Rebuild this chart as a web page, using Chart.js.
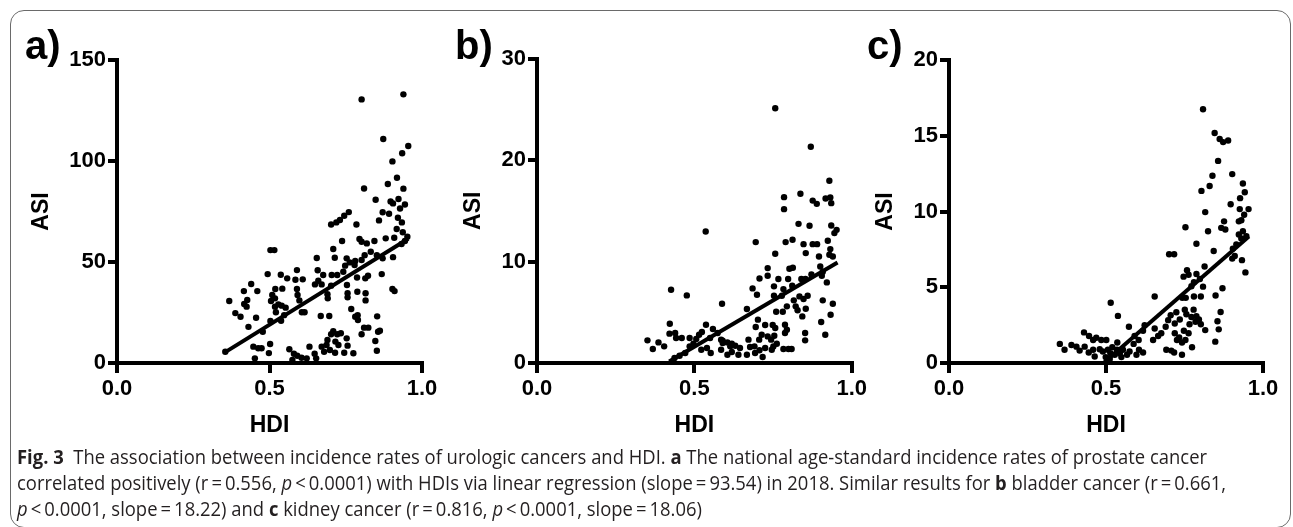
<!DOCTYPE html>
<html>
<head>
<meta charset="utf-8">
<script src="https://cdn.jsdelivr.net/npm/chart.js@4.4.0/dist/chart.umd.min.js"></script>
<style>
  html, body { margin: 0; padding: 0; background: #fff; }
  body { width: 1293px; height: 527px; position: relative; overflow: hidden; font-family: "Liberation Sans", Arial, sans-serif; }
  #frame { position: absolute; left: 10px; top: 10px; width: 1281px; height: 518px; border: 1.5px solid #6a6a6a; border-radius: 14px; box-sizing: border-box; }
  canvas.panel { position: absolute; top: 0; }
  .letter { position: absolute; top: 25px; font-weight: bold; font-size: 40px; line-height: 40px; color: #000; }
  .caption { position: absolute; left: 17px; font-family: "Open Sans", "Noto Sans", sans-serif; font-size: 20px; line-height: 26px; white-space: nowrap; transform-origin: 0 0; color: #231f20; }
</style>
</head>
<body>
<div id="frame"></div>

<canvas class="panel" id="chartA" width="430" height="450" style="left:12px"></canvas>
<canvas class="panel" id="chartB" width="440" height="450" style="left:430px"></canvas>
<canvas class="panel" id="chartC" width="435" height="450" style="left:850px"></canvas>

<div class="letter" style="left:25px">a)</div>
<div class="letter" style="left:455px">b)</div>
<div class="letter" style="left:867px">c)</div>

<div class="caption" style="top:444px"><b>Fig. 3</b>&nbsp; The association between incidence rates of urologic cancers and HDI. <b>a</b> The national age-standard incidence rates of prostate cancer</div>
<div class="caption" style="top:470px">correlated positively (r&thinsp;=&thinsp;0.556, <i>p</i>&thinsp;&lt;&thinsp;0.0001) with HDIs via linear regression (slope&thinsp;=&thinsp;93.54) in 2018. Similar results for <b>b</b> bladder cancer (r&thinsp;=&thinsp;0.661,</div>
<div class="caption" style="top:496px"><i>p</i>&thinsp;&lt;&thinsp;0.0001, slope&thinsp;=&thinsp;18.22) and <b>c</b> kidney cancer (r&thinsp;=&thinsp;0.816, <i>p</i>&thinsp;&lt;&thinsp;0.0001, slope&thinsp;=&thinsp;18.06)</div>

<script>
// a) prostate cancer
const hdiA = [0.802,0.939,0.873,0.955,0.935,0.903,0.918,0.888,0.939,0.810,0.848,0.897,0.905,0.923,0.944,0.928,0.871,0.892,0.921,0.760,
  0.745,0.731,0.719,0.702,0.785,0.859,0.934,0.917,0.937,0.952,0.944,0.933,0.909,0.881,0.844,0.819,0.795,0.802,0.738,0.709,
  0.655,0.714,0.753,0.763,0.781,0.812,0.832,0.852,0.871,0.905,0.802,0.779,0.748,0.742,0.722,0.704,0.676,0.658,0.660,0.649,
  0.671,0.585,0.609,0.590,0.558,0.537,0.494,0.503,0.516,0.542,0.519,0.509,0.518,0.505,0.529,0.518,0.540,0.553,0.590,0.592,
  0.598,0.615,0.606,0.668,0.696,0.691,0.690,0.702,0.754,0.787,0.814,0.823,0.756,0.756,0.788,0.815,0.815,0.868,0.903,0.910,
  0.768,0.781,0.790,0.789,0.853,0.810,0.824,0.856,0.862,0.847,0.852,0.802,0.427,0.440,0.416,0.460,0.368,0.417,0.425,0.388,
  0.405,0.456,0.431,0.478,0.521,0.538,0.503,0.548,0.447,0.463,0.474,0.502,0.498,0.452,0.355,0.565,0.580,0.591,0.605,0.631,
  0.648,0.653,0.622,0.575,0.671,0.687,0.690,0.702,0.709,0.722,0.734,0.716,0.753,0.726,0.756,0.698,0.715,0.745,0.775,0.679];
const asiA = [130.5,133,110.9,107.4,103.8,99.8,91.7,88.6,86.3,86.4,80.8,80,79,81.2,78.5,76.5,74.6,73.9,71.9,74.7,
  72.9,70.8,69.6,68.6,68.6,70.6,69.6,66.3,64.7,62.5,60.4,58.9,62,61.7,60.4,59.2,61.4,60,60.4,56.4,
  52,52.1,51.8,49.8,50.5,53.4,55.1,53.4,51.8,52.4,51,48.5,48.2,45.2,43.6,43.6,43.6,45.9,40.7,38.9,
  38.9,41.2,41.4,46,41.9,43.7,44,55.9,55.9,36.8,36.6,33.7,32,30.7,29,27.9,28.4,27.4,36.6,33.7,
  31,25.1,25.1,23.3,23.3,32,34,38.3,38.6,42.3,41.9,43.2,34.5,32.5,35.3,34.5,31,44,36.6,35.6,
  26.7,22.9,21.3,23.7,23.1,17.5,17.5,15.5,16,10.9,6.1,14.2,31.2,39.1,35.6,35.6,30.7,29.2,27.9,24.7,
  22.9,22.4,17.9,15.5,25.1,20.9,20.8,23.7,8.1,7.3,7.3,9.4,4.9,2.3,5.6,6.8,4.6,3.6,2.6,8.1,
  4.6,2.3,2.3,1.5,8.1,8.9,11.4,14.2,15.8,14.2,14.7,10.6,12.2,8.9,8.6,6.4,5.1,5.1,4.8,5.6];
const fitHdiA = [0.355, 0.955];
const fitAsiA = [5.4, 61.5];

// b) bladder cancer
const hdiB = [0.757,0.870,0.929,0.785,0.837,0.876,0.889,0.917,0.932,0.935,0.785,0.536,0.831,0.866,0.935,0.952,0.945,0.790,0.812,0.695,
  0.847,0.876,0.890,0.924,0.932,0.854,0.896,0.929,0.940,0.757,0.733,0.802,0.813,0.900,0.908,0.707,0.733,0.767,0.798,0.753,
  0.685,0.699,0.840,0.853,0.872,0.905,0.921,0.811,0.783,0.778,0.753,0.834,0.860,0.816,0.847,0.908,0.940,0.794,0.822,0.828,
  0.760,0.781,0.667,0.854,0.843,0.933,0.903,0.916,0.426,0.476,0.588,0.702,0.422,0.537,0.559,0.524,0.515,0.695,0.725,0.749,
  0.757,0.788,0.794,0.852,0.852,0.421,0.442,0.460,0.485,0.506,0.574,0.585,0.590,0.605,0.614,0.630,0.645,0.672,0.691,0.706,
  0.714,0.733,0.744,0.754,0.788,0.783,0.799,0.809,0.762,0.746,0.725,0.707,0.717,0.693,0.667,0.640,0.619,0.605,0.585,0.552,
  0.540,0.522,0.497,0.485,0.471,0.453,0.437,0.351,0.368,0.386,0.404,0.439,0.550,0.590,0.619,0.677,0.751];
const asiB = [25.1,21.3,17.95,16.34,16.67,16.0,15.68,16.2,16.3,15.75,15.16,12.96,13.71,13.52,13.55,13.12,12.8,11.91,12.14,11.91,
  11.71,11.71,11.71,12.04,11.22,10.83,10.5,10.66,10.5,10.76,9.35,9.28,9.38,9.51,8.99,8.33,8.6,8.27,8.27,7.55,
  7.35,6.73,8.27,8.27,8.73,8.6,7.94,7.61,7.28,6.63,6.63,6.56,6.63,6.17,6.3,6.17,5.84,5.58,5.58,5.19,
  5.05,5.05,5.32,5.35,4.59,4.76,4.04,2.79,7.22,6.66,5.84,4.27,3.87,3.77,3.35,3.05,2.79,3.54,3.74,3.74,
  3.45,3.77,3.28,2.95,2.23,2.89,2.46,2.46,2.46,2.36,2.95,2.3,1.97,2.03,1.64,1.7,1.48,2.3,1.64,2.3,
  2.79,2.62,2.3,2.69,2.95,1.38,1.38,1.38,1.9,1.31,1.48,1.25,0.59,0.98,0.82,0.82,1.08,0.82,1.31,0.98,
  1.48,1.31,1.9,1.64,0.98,0.72,0.49,2.23,1.38,2.03,1.64,2.95,2.46,2.2,1.9,1.57,1.63];
const fitHdiB = [0.42, 0.955];
const fitAsiB = [0.15, 9.9];

// c) kidney cancer
const hdiC = [0.809,0.846,0.862,0.873,0.889,0.857,0.839,0.902,0.936,0.830,0.804,0.942,0.816,0.927,0.897,0.926,0.954,0.940,0.931,0.923,
  0.876,0.753,0.825,0.867,0.880,0.936,0.923,0.931,0.947,0.788,0.915,0.904,0.843,0.701,0.717,0.910,0.902,0.933,0.944,0.814,
  0.758,0.747,0.763,0.788,0.799,0.780,0.772,0.809,0.871,0.849,0.802,0.780,0.754,0.743,0.655,0.515,0.538,0.573,0.865,0.855,
  0.859,0.848,0.779,0.788,0.751,0.756,0.772,0.724,0.706,0.698,0.796,0.802,0.816,0.785,0.766,0.735,0.719,0.748,0.763,0.733,
  0.719,0.690,0.676,0.666,0.650,0.742,0.726,0.753,0.774,0.692,0.708,0.717,0.742,0.618,0.604,0.591,0.588,0.605,0.618,0.597,
  0.575,0.567,0.655,0.623,0.430,0.446,0.459,0.469,0.485,0.501,0.536,0.353,0.368,0.390,0.406,0.416,0.432,0.445,0.459,0.464,
  0.480,0.490,0.506,0.514,0.520,0.528,0.544,0.549,0.499,0.512,0.535,0.554];
const asiC = [16.75,15.18,14.79,14.58,14.69,13.34,12.36,12.47,11.85,11.68,11.36,11.27,9.96,10.88,10.48,10.16,10.16,9.79,9.42,9.35,
  9.35,8.96,8.7,8.92,8.81,8.7,8.48,8.22,8.37,7.87,7.83,7.55,7.39,7.18,7.18,7.07,6.89,6.79,5.98,6.37,
  6.13,5.7,5.83,5.87,5.54,5.33,5.07,5.04,4.93,4.46,4.39,4.39,4.3,4.3,4.39,3.98,3.11,2.39,3.37,2.76,
  2.22,1.41,3.52,3.09,3.52,3.22,3.04,3.35,3.15,2.83,2.87,2.56,2.17,2.72,2.56,2.87,2.61,2.13,1.96,1.69,
  1.96,2.39,1.96,1.78,1.52,1.35,1.52,1.52,1.04,0.87,0.82,0.69,0.54,2.13,1.52,1.78,1.26,0.87,0.69,0.54,
  0.76,0.54,2.28,2.5,2.02,1.78,1.52,1.67,1.52,1.52,1.35,1.26,0.87,1.19,1.08,0.82,1.08,0.69,0.87,0.43,
  0.91,0.76,0.87,0.65,1.04,0.54,0.65,0.39,0.39,0.26,0.87,0.87];
const fitHdiC = [0.495, 0.955];
const fitAsiC = [0.05, 8.35];

const xTicks = [0, 0.5, 1];

const tickFont = { family: '"Liberation Sans", Arial, sans-serif', size: 22, weight: 'bold' };
const titleFont = { family: '"Liberation Sans", Arial, sans-serif', size: 23, weight: 'bold' };

function build_chart(id, hdi, asi, fitX, fitY, yMax, yStep, top, yWidth, padRight, asiPad) {
  const points = hdi.map((v, i) => ({ x: v, y: asi[i] }));
  const fit = fitX.map((v, i) => ({ x: v, y: fitY[i] }));
  return new Chart(document.getElementById(id), {
    type: 'scatter',
    data: {
      datasets: [
        { data: points, backgroundColor: '#000', borderColor: '#000', borderWidth: 0, pointRadius: 3.2, clip: false },
        { data: fit, showLine: true, borderColor: '#000', borderWidth: 4, pointRadius: 0, clip: false }
      ]
    },
    options: {
      responsive: false,
      animation: false,
      layout: { padding: { top: top, right: padRight, left: 0, bottom: 0 } },
      plugins: { legend: { display: false }, tooltip: { enabled: false } },
      scales: {
        x: {
          type: 'linear', min: 0, max: 1,
          afterBuildTicks: s => { s.ticks = xTicks.map(v => ({ value: v })); },
          ticks: { callback: v => v.toFixed(1), font: tickFont, color: '#000', padding: 3, maxRotation: 0 },
          grid: { drawOnChartArea: false, tickLength: 10, lineWidth: 4, color: '#000' },
          border: { width: 4, color: '#000' },
          title: { display: true, text: 'HDI', font: titleFont, color: '#000', padding: { top: 0, bottom: 11 } },
          afterFit: s => { s.height = 87; }
        },
        y: {
          type: 'linear', min: 0, max: yMax,
          ticks: { stepSize: yStep, font: tickFont, color: '#000', padding: 2 },
          grid: { drawOnChartArea: false, tickLength: 9, lineWidth: 4, color: '#000' },
          border: { width: 4, color: '#000' },
          title: { display: true, text: 'ASI', font: titleFont, color: '#000', padding: { top: asiPad, bottom: 0 } },
          afterFit: s => { s.width = yWidth; }
        }
      }
    }
  });
}

build_chart('chartA', hdiA, asiA, fitHdiA, fitAsiA, 150, 50, 60, 105, 20, 16);
build_chart('chartB', hdiB, asiB, fitHdiB, fitAsiB, 30, 10, 58.5, 107, 18, 30);
build_chart('chartC', hdiC, asiC, fitHdiC, fitAsiC, 20, 5, 60, 99, 22, 22);

// squeeze the caption lines to the width they have in the figure
document.fonts.ready.then(() => {
  const lines = document.querySelectorAll('.caption');
  const k = (1207 - 17) / lines[0].getBoundingClientRect().width;
  lines.forEach(l => { l.style.transform = 'scaleX(' + k + ')'; });
});
</script>
</body>
</html>
